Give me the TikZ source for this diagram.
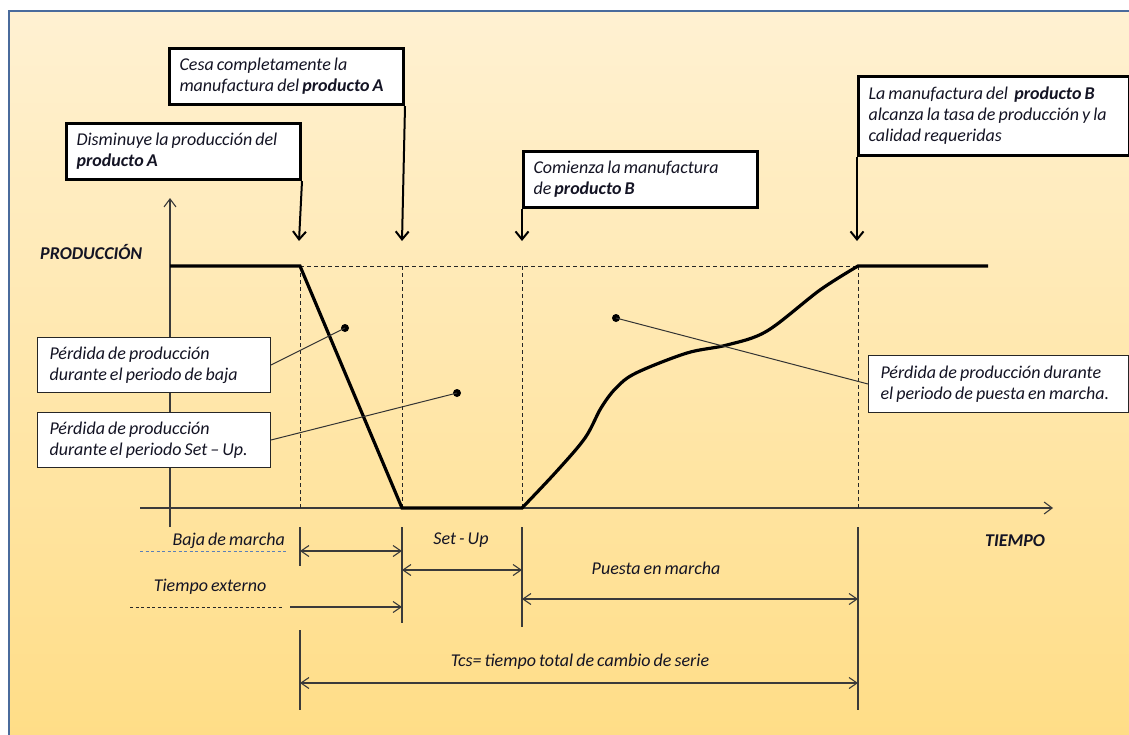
\documentclass[tikz,border=0pt]{standalone}
\usepackage{fontspec}
\setmainfont{Carlito}[WordSpace=0.75]
\usetikzlibrary{arrows.meta}
\definecolor{frameblue}{HTML}{4A6B9C}
\definecolor{bgtop}{HTML}{FFF1D2}
\definecolor{bgbot}{HTML}{FFDD86}
\definecolor{textcol}{HTML}{141424}
\definecolor{dimcol}{HTML}{3A3A3A}
\definecolor{dashblue}{HTML}{5B7FB8}
\tikzset{
  txt/.style={font=\fontsize{18}{21}\selectfont\itshape, text=textcol},
  bigbox/.style={txt, draw=black, line width=3pt, fill=white, align=flush left, inner xsep=10pt, inner ysep=2pt, anchor=north west},
  smallbox/.style={txt, draw=black!85, line width=1pt, fill=white, align=flush left, inner xsep=12pt, inner ysep=2pt, anchor=north west},
  bigarrow/.style={line width=2pt, -{Straight Barb[length=8pt,width=13pt,line width=2pt]}},
  leader/.style={line width=1pt, draw=black!80},
  dot/.style={circle, fill=black, inner sep=0pt, minimum size=8pt},
  dashline/.style={line width=0.8pt, dash pattern=on 4pt off 3pt, draw=black!85},
  dimline/.style={line width=1.1pt, draw=dimcol},
  dimarrow/.style={line width=1.1pt, draw=dimcol, {Straight Barb[length=8pt,width=11pt,line width=1.1pt]}-{Straight Barb[length=8pt,width=11pt,line width=1.1pt]}},
  onearrow/.style={line width=1.1pt, draw=dimcol, -{Straight Barb[length=8pt,width=11pt,line width=1.1pt]}},
  axis/.style={line width=1.1pt, draw=dimcol, -{Straight Barb[length=8pt,width=12pt,line width=1.1pt]}},
  prodline/.style={line width=3.2pt, draw=black, line join=miter},
  lbl/.style={txt, inner sep=0pt},
}
\begin{document}
\begin{tikzpicture}[x=1pt,y=-1pt]
\useasboundingbox (0,0) rectangle (1129,734);
\fill[white] (0,0) rectangle (1129,734);
\shade[top color=bgtop, bottom color=bgbot] (9,11) rectangle (1140,745);
\draw[frameblue, line width=2.6pt] (9,745) -- (9,11) -- (1140,11);

% axes
\coordinate (yb) at (170,527);
\coordinate (yt) at (170,198);
\coordinate (xl) at (140,508);
\coordinate (xr) at (1053,508);
\draw[axis] (yb) -- (yt);
\draw[axis] (xl) -- (xr);

% dashed guides
\coordinate (p1) at (300,266);
\coordinate (p2) at (402,508);
\coordinate (p3) at (522,508);
\coordinate (p4) at (858,266);
\draw[dashline] (p1) -- (p4);
\draw[dashline] (p1) -- (300,508);
\draw[dashline] (402,266) -- (p2);
\draw[dashline] (522,266) -- (p3);
\draw[dashline] (p4) -- (858,508);

% production curve
\draw[prodline] (170,266) -- (p1) -- (p2) -- (p3)
  -- plot[smooth, tension=0.55] coordinates {(522,508) (556,472) (585,438) (601,408) (616,388) (636,373) (687,353) (727,345) (767,331) (820,290) (858,266)}
  -- (988,266);

% event boxes
\node[bigbox, minimum width=234pt, text width=214pt, minimum height=56pt] (b1) at (168,47) {\mbox{Cesa completamente la}\\\mbox{manufactura del \textbf{producto A}}};
\node[bigbox, minimum width=234pt, text width=214pt, minimum height=56pt] (b2) at (65,122) {\mbox{Disminuye la producción del}\\\mbox{\textbf{producto A}}};
\node[bigbox, minimum width=234pt, text width=214pt, minimum height=56pt] (b3) at (522,150) {\mbox{Comienza la manufactura}\\\mbox{de \textbf{producto B}}};
\node[bigbox, minimum width=271pt, text width=251pt, minimum height=79pt] (b4) at (857,75) {\mbox{La manufactura del \ \textbf{producto B}}\\\mbox{alcanza la tasa de producción y la}\\\mbox{calidad requeridas}};

\coordinate (a1) at (402,241);
\coordinate (a2) at (299,241);
\coordinate (a3) at (522,241);
\coordinate (a4) at (857,241);
\draw[bigarrow] (b1.south east) -- (a1);
\draw[bigarrow] (b2.south east) -- (a2);
\draw[bigarrow] (b3.south west) -- (a3);
\draw[bigarrow] (b4.south west) -- (a4);

% loss boxes
\node[smallbox, minimum width=233pt, text width=209pt, minimum height=55pt] (b5) at (37,337) {\mbox{Pérdida de producción}\\\mbox{durante el periodo de baja}};
\node[smallbox, minimum width=233pt, text width=209pt, minimum height=55pt] (b6) at (37,412) {\mbox{Pérdida de producción}\\\mbox{durante el periodo Set – Up.}};
\node[smallbox, minimum width=260pt, text width=236pt, minimum height=57pt] (b7) at (868,355) {\mbox{Pérdida de producción durante}\\\mbox{el periodo de puesta en marcha.}};

\node[dot] (d1) at (345,328) {};
\node[dot] (d2) at (457,393) {};
\node[dot] (d3) at (616,318) {};
\draw[leader] (b5.east) -- (d1.center);
\draw[leader] (b6.east) -- (d2.center);
\draw[leader] (b7.west) -- (d3.center);

% axis labels
\node[lbl, font=\fontsize{18}{21}\selectfont\bfseries\itshape, anchor=west] (prod) at (40,252) {PRODUCCIÓN};
\node[lbl, font=\fontsize{18}{21}\selectfont\bfseries\itshape] (tiempo) at (1015,541) {TIEMPO};

% extension lines
\draw[dimline] (300,527) -- (300,566);
\draw[dimline] (402,527) -- (402,623);
\draw[dimline] (522,527) -- (522,627);
\draw[dimline] (858,527) -- (858,710);
\draw[dimline] (300,630) -- (300,710);

% dimension arrows
\coordinate (bj1) at (300,551); \coordinate (bj2) at (402,551);
\coordinate (su1) at (402,570); \coordinate (su2) at (522,570);
\coordinate (pm1) at (522,599); \coordinate (pm2) at (858,599);
\coordinate (tc1) at (300,683); \coordinate (tc2) at (858,683);
\coordinate (te1) at (290,607); \coordinate (te2) at (402,607);
\draw[dimarrow] (bj1) -- (bj2);
\draw[dimarrow] (su1) -- (su2);
\draw[dimarrow] (pm1) -- (pm2);
\draw[dimarrow] (tc1) -- (tc2);
\draw[onearrow] (te1) -- (te2);
\draw[line width=0.8pt, dashblue, dash pattern=on 3pt off 2.5pt] (140,551) -- (288,551);
\draw[line width=0.8pt, black!85, dash pattern=on 3pt off 2.5pt] (130,607) -- (282,607);

\node[lbl, anchor=east] (lbaja) at (285,541) {Baja de marcha};
\node[lbl] (lset) at (461,540) {Set - Up};
\node[lbl] (lext) at (210,587) {Tiempo externo};
\node[lbl] (lpm) at (656,568) {Puesta en marcha};
\node[lbl] (ltcs) at (580,662) {Tcs= tiempo total de cambio de serie};
\end{tikzpicture}
\end{document}
